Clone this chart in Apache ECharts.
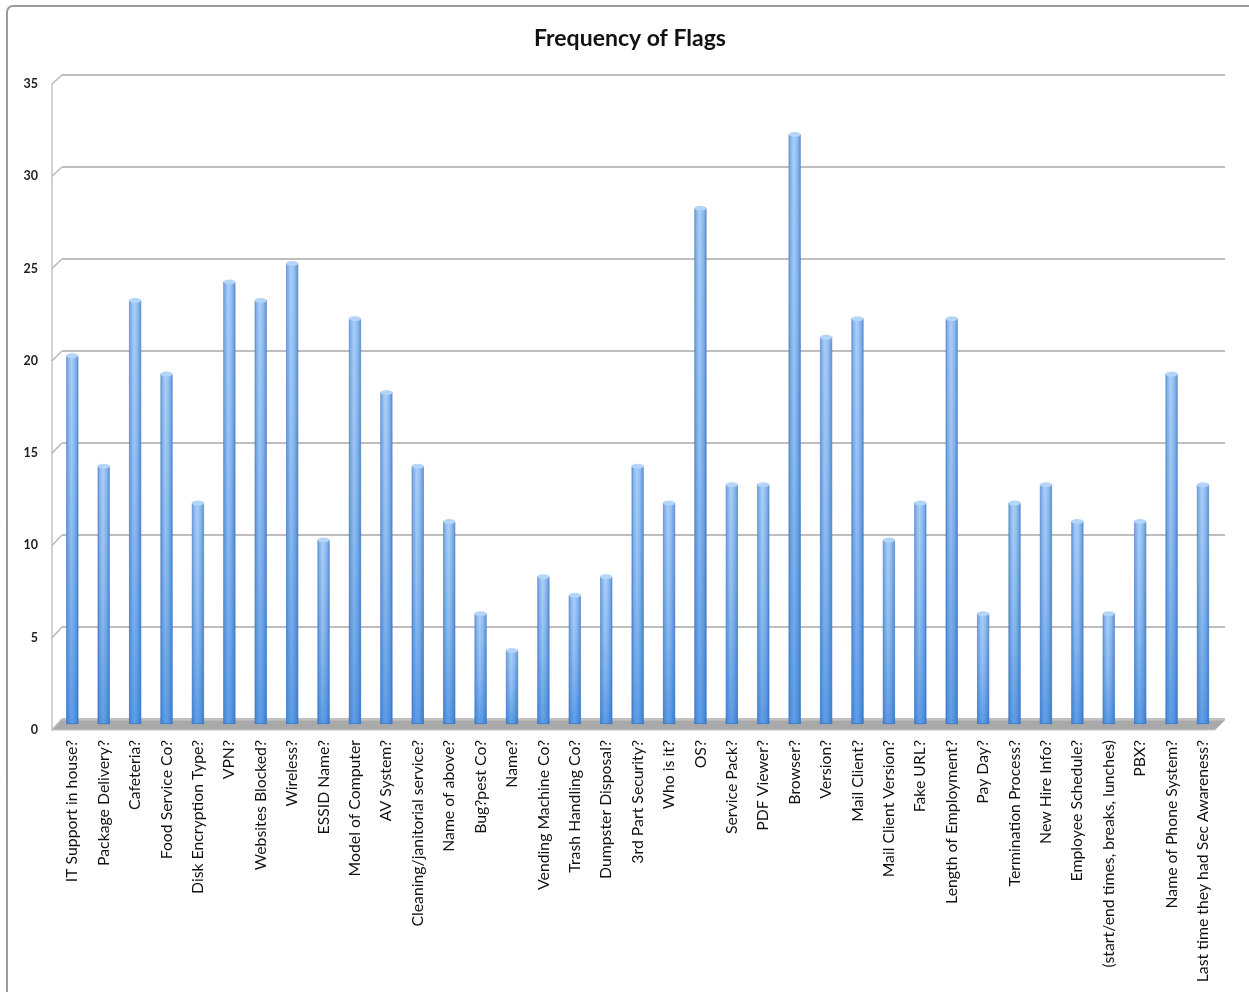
<!DOCTYPE html>
<html>
<head>
<meta charset="utf-8">
<script src="https://cdn.jsdelivr.net/npm/echarts@6/dist/echarts.min.js"></script>
<style>
html,body{margin:0;padding:0;background:#fff;}
#chart{width:1249px;height:992px;}
</style>
</head>
<body>
<div id="chart"></div>
<script>
const categories = [
  'IT Support in house?', 'Package Delivery?', 'Cafeteria?', 'Food Service Co?',
  'Disk Encryption Type?', 'VPN?', 'Websites Blocked?', 'Wireless?', 'ESSID Name?',
  'Model of Computer', 'AV System?', 'Cleaning/janitorial service?', 'Name of above?',
  'Bug?pest Co?', 'Name?', 'Vending Machine Co?', 'Trash Handling Co?',
  'Dumpster Disposal?', '3rd Part Security?', 'Who is it?', 'OS?', 'Service Pack?',
  'PDF Viewer?', 'Browser?', 'Version?', 'Mail Client?', 'Mail Client Version?',
  'Fake URL?', 'Length of Employment?', 'Pay Day?', 'Termination Process?',
  'New Hire Info?', 'Employee Schedule?', '(start/end times, breaks, lunches)', 'PBX?',
  'Name of Phone System?', 'Last time they had Sec Awareness?'
];
const flagCounts = [
  20, 14, 23, 19, 12, 24, 23, 25, 10, 22, 18, 14, 11, 6, 4, 8, 7, 8, 14, 12, 28,
  13, 13, 32, 21, 22, 10, 12, 22, 6, 12, 13, 11, 6, 11, 19, 13
];
const yTicks = [0, 5, 10, 15, 20, 25, 30, 35];
const chartTitle = 'Frequency of Flags';

const FONT = 'Lato';
const chart = echarts.init(document.getElementById('chart'), null, {renderer: 'canvas'});

const yMax = yTicks[yTicks.length - 1];
const yStep = yTicks[1] - yTicks[0];

const option = {
  backgroundColor: '#fff',
  animation: false,
  title: {
    text: chartTitle,
    left: 529, top: 22,
    textStyle: {fontFamily: FONT, fontWeight: 'bold', fontSize: 23, color: '#111'}
  },
  grid: [
    {left: 56.6, right: 30.3, top: 79, bottom: 268},   // bars
    {left: 62, right: 24, top: 75, bottom: 273},       // back wall
    {left: 52, right: 24, top: 84, bottom: 262}        // front axis labels
  ],
  xAxis: [
    {
      gridIndex: 0, type: 'category', data: categories,
      axisLine: {show: false}, axisTick: {show: false},
      axisLabel: {
        rotate: 90, interval: 0, margin: 16, color: '#111',
        fontFamily: FONT, fontSize: 15.8
      }
    },
    {gridIndex: 1, type: 'category', data: categories, show: false},
    {gridIndex: 2, type: 'category', data: categories, show: false}
  ],
  yAxis: [
    {gridIndex: 0, type: 'value', min: 0, max: yMax, interval: yStep, show: false},
    {
      gridIndex: 1, type: 'value', min: 0, max: yMax, interval: yStep,
      axisLine: {show: false}, axisTick: {show: false}, axisLabel: {show: false},
      splitLine: {show: true, lineStyle: {color: '#a8a8a8', width: 1.5}}
    },
    {
      gridIndex: 2, type: 'value', min: 0, max: yMax, interval: yStep,
      axisLine: {show: true, lineStyle: {color: '#c4c4c4', width: 1.5}},
      axisTick: {show: false},
      splitLine: {show: false},
      axisLabel: {
        show: true, margin: 14, color: '#222', fontFamily: FONT, fontSize: 12.5,
        fontWeight: 'bold',
        formatter: function (v) { return yTicks.indexOf(v) >= 0 ? String(v) : ''; }
      }
    }
  ],
  series: [
    {
      type: 'bar', xAxisIndex: 0, yAxisIndex: 0, data: flagCounts, barWidth: 12, z: 3,
      itemStyle: {
        color: new echarts.graphic.LinearGradient(0, 0, 1, 0, [
          {offset: 0, color: '#5a90d2'},
          {offset: 0.18, color: '#82b2ea'},
          {offset: 0.42, color: '#a9cef8'},
          {offset: 0.7, color: '#89b8ee'},
          {offset: 1, color: '#4f86c8'}
        ]),
        borderColor: 'rgba(70,115,180,0.55)', borderWidth: 0.6
      }
    },
    {
      type: 'bar', xAxisIndex: 0, yAxisIndex: 0, data: flagCounts, barWidth: 12,
      barGap: '-100%', z: 4, silent: true,
      itemStyle: {
        color: new echarts.graphic.LinearGradient(0, 0, 0, 1, [
          {offset: 0, color: 'rgba(180,215,255,0.15)'},
          {offset: 0.45, color: 'rgba(60,130,215,0.18)'},
          {offset: 1, color: 'rgba(35,115,210,0.55)'}
        ])
      }
    },
    {
      type: 'pictorialBar', xAxisIndex: 0, yAxisIndex: 0, data: flagCounts, z: 5,
      symbol: 'circle', symbolSize: [12, 5], symbolPosition: 'end',
      symbolOffset: [0, '-50%'], silent: true,
      itemStyle: {color: '#b4d4f8', borderColor: '#6b9bd6', borderWidth: 0.8}
    }
  ]
};
chart.setOption(option);

// decorations: outer frame, floor, diagonal 3D ticks
const frontX = chart.convertToPixel({xAxisIndex: 2}, categories[0]) - (chart.convertToPixel({xAxisIndex: 2}, categories[1]) - chart.convertToPixel({xAxisIndex: 2}, categories[0])) / 2;
const backX = chart.convertToPixel({xAxisIndex: 1}, categories[0]) - (chart.convertToPixel({xAxisIndex: 1}, categories[1]) - chart.convertToPixel({xAxisIndex: 1}, categories[0])) / 2;
const backBand = chart.convertToPixel({xAxisIndex: 1}, categories[1]) - chart.convertToPixel({xAxisIndex: 1}, categories[0]);
const backRight = chart.convertToPixel({xAxisIndex: 1}, categories[categories.length - 1]) + backBand / 2;
const frontRight = backRight - (backX - frontX);
const back0 = chart.convertToPixel({yAxisIndex: 1}, 0);
const front0 = chart.convertToPixel({yAxisIndex: 2}, 0);

const elements = [
  {
    type: 'rect', z: 0,
    shape: {x: 7, y: 6, width: 1270, height: 1010, r: 6},
    style: {fill: 'none', stroke: '#9a9a9a', lineWidth: 2}
  },
  {
    type: 'polygon', z: 1,
    shape: {points: [[backX, back0 + 1], [backRight, back0 + 1], [frontRight, front0], [frontX, front0]]},
    style: {fill: '#a9a9a9', stroke: '#c8c8c8', lineWidth: 1}
  }
];
yTicks.forEach(function (v) {
  const yb = chart.convertToPixel({yAxisIndex: 1}, v);
  const yf = chart.convertToPixel({yAxisIndex: 2}, v);
  elements.push({
    type: 'line', z: 1,
    shape: {x1: frontX, y1: yf, x2: backX, y2: yb},
    style: {stroke: '#b8b8b8', lineWidth: 1.5}
  });
});
chart.setOption({graphic: {elements: elements}});
</script>
</body>
</html>
